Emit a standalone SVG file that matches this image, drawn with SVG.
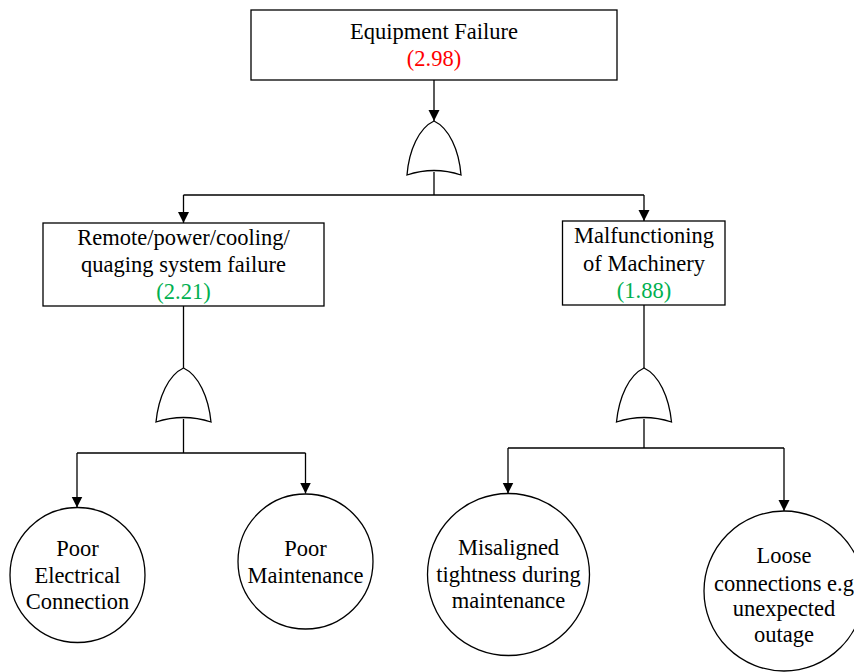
<svg xmlns="http://www.w3.org/2000/svg" width="854" height="672" viewBox="0 0 854 672">
<defs>
<style>
.box{fill:#fff;stroke:#000;stroke-width:1.3}
.gate{fill:#fff;stroke:#000;stroke-width:1.3}
.ln{fill:none;stroke:#000;stroke-width:1.3}
text{font-family:'Liberation Serif',serif;font-size:22.5px;fill:#000;text-anchor:middle}
.red{fill:#ff0000}
.grn{fill:#00b050}
</style>
<marker id="arr" markerUnits="userSpaceOnUse" markerWidth="12" markerHeight="12" viewBox="0 0 12 12" refX="11" refY="6" orient="auto">
<path d="M0,0.5 L11,6 L0,11.5 Z" fill="#000"/>
</marker>
</defs>
<rect width="854" height="672" fill="#fff"/>
<g id="connectors">
<line class="ln" x1="434" y1="80" x2="434" y2="121" marker-end="url(#arr)"/>
<line class="ln" x1="434" y1="172" x2="434" y2="195"/>
<line class="ln" x1="183.5" y1="195" x2="644" y2="195"/>
<line class="ln" x1="183.5" y1="195" x2="183.5" y2="223" marker-end="url(#arr)"/>
<line class="ln" x1="644" y1="195" x2="644" y2="221" marker-end="url(#arr)"/>
<line class="ln" x1="183.5" y1="306" x2="183.5" y2="368"/>
<line class="ln" x1="183.5" y1="419" x2="183.5" y2="453"/>
<line class="ln" x1="77" y1="453" x2="305.5" y2="453"/>
<line class="ln" x1="77" y1="453" x2="77" y2="507.5" marker-end="url(#arr)"/>
<line class="ln" x1="305.5" y1="453" x2="305.5" y2="493.5" marker-end="url(#arr)"/>
<line class="ln" x1="644" y1="305" x2="644" y2="368"/>
<line class="ln" x1="644" y1="419" x2="644" y2="448"/>
<line class="ln" x1="508" y1="448" x2="784" y2="448"/>
<line class="ln" x1="508" y1="448" x2="508" y2="493.5" marker-end="url(#arr)"/>
<line class="ln" x1="784" y1="448" x2="784" y2="511" marker-end="url(#arr)"/>
</g>
<g id="top">
<rect class="box" x="251" y="10" width="366" height="70"/>
<text x="434" y="39">Equipment Failure</text>
<text class="red" x="434" y="66">(2.98)</text>
</g>
<g id="gate-top">
<path class="gate" d="M434,121 C449,128 459,150 461,175 Q434,166 407,175 C409,150 419,128 434,121 Z"/>
</g>
<g id="remote">
<rect class="box" x="43" y="223" width="281" height="83"/>
<text x="183.5" y="245">Remote/power/cooling/</text>
<text x="183.5" y="272">quaging system failure</text>
<text class="grn" x="183.5" y="299">(2.21)</text>
</g>
<g id="malfunction">
<rect class="box" x="562.5" y="221" width="162.5" height="84"/>
<text x="644" y="243">Malfunctioning</text>
<text x="644" y="271">of Machinery</text>
<text class="grn" x="644" y="298">(1.88)</text>
</g>
<g id="gate-left">
<path class="gate" d="M183.5,368 C198.5,375 208.5,397 211,422 Q183.5,413 156,422 C158.5,397 168.5,375 183.5,368 Z"/>
</g>
<g id="gate-right">
<path class="gate" d="M644,368 C659,375 669,397 671.5,422 Q644,413 616.5,422 C619,397 629,375 644,368 Z"/>
</g>
<g id="poor-electrical">
<circle class="box" cx="77.5" cy="575" r="67.5"/>
<text x="77.5" y="556">Poor</text>
<text x="77.5" y="583">Electrical</text>
<text x="77.5" y="609">Connection</text>
</g>
<g id="poor-maintenance">
<circle class="box" cx="305.5" cy="561.5" r="67.5"/>
<text x="305.5" y="556">Poor</text>
<text x="305.5" y="583">Maintenance</text>
</g>
<g id="misaligned">
<circle class="box" cx="508.5" cy="574.5" r="81"/>
<text x="508.5" y="555">Misaligned</text>
<text x="508.5" y="582">tightness during</text>
<text x="508.5" y="608">maintenance</text>
</g>
<g id="loose">
<circle class="box" cx="784" cy="591" r="80"/>
<text x="784" y="563">Loose</text>
<text x="784" y="591">connections e.g</text>
<text x="784" y="616">unexpected</text>
<text x="784" y="642">outage</text>
</g>
</svg>
